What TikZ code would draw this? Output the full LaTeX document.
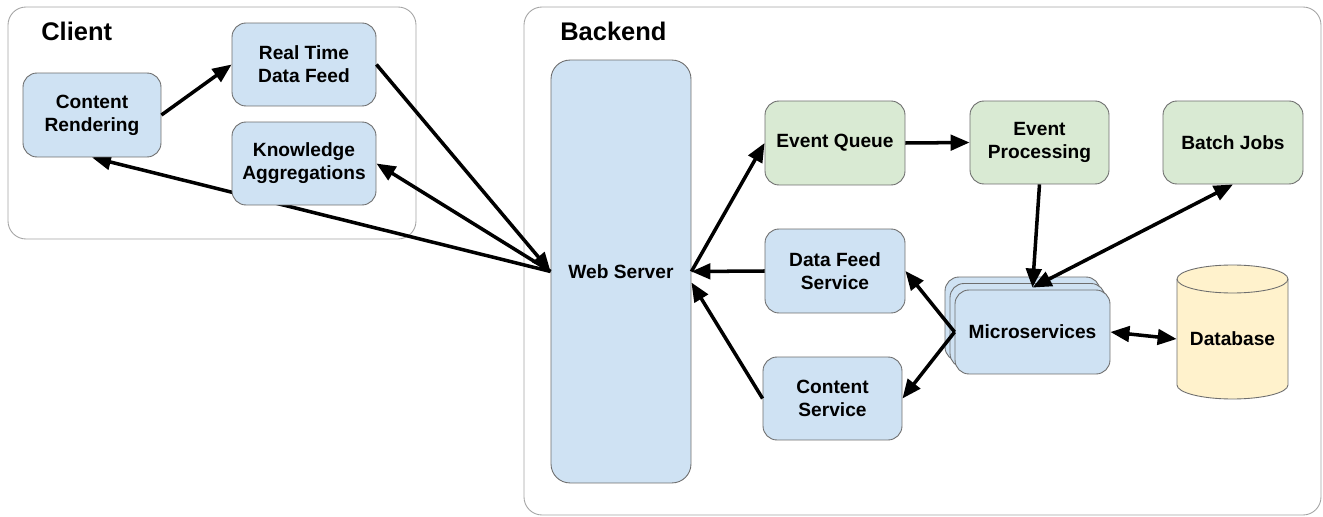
\documentclass[tikz,border=0pt]{standalone}
\usepackage{fontspec}
\setmainfont{Liberation Sans}
\usepackage{xcolor}
\usetikzlibrary{arrows.meta}

\definecolor{boxblue}{HTML}{CFE2F3}
\definecolor{boxgreen}{HTML}{D9EAD3}
\definecolor{dbyellow}{HTML}{FFF2CC}
\definecolor{boxline}{HTML}{6E6E6E}
\definecolor{groupline}{HTML}{A4A4A4}

\pgfdeclarelayer{groups}
\pgfdeclarelayer{links}
\pgfsetlayers{groups,links,main}

\begin{document}
\begin{tikzpicture}[x=0.02cm, y=-0.02cm,
	box/.style={draw=boxline, line width=0.5pt, rounded corners=0.28cm, fill=boxblue,
		align=center, inner sep=0pt, minimum width=2.8cm, minimum height=1.68cm,
		font=\fontsize{10.9}{13}\selectfont\bfseries},
	greenbox/.style={box, fill=boxgreen},
	group/.style={draw=groupline, line width=0.5pt, rounded corners=0.36cm, fill=white},
	title/.style={anchor=west, inner sep=0pt, font=\fontsize{14.5}{16}\selectfont\bfseries},
	link/.style={line width=2pt, -{Triangle[length=0.38cm,width=0.31cm]}},
	duallink/.style={line width=2pt, {Triangle[length=0.38cm,width=0.31cm]}-{Triangle[length=0.38cm,width=0.31cm]}}]
	\useasboundingbox (0,0) rectangle (1323,517);
	
	% Groups
	\begin{pgfonlayer}{groups}
		\draw[group] (8,7) rectangle (416,239);
		\draw[group] (524,7) rectangle (1321,515);
	\end{pgfonlayer}
	\node[title] (client) at (41,31) {Client};
	\node[title] (backend) at (560,31) {Backend};
	
	% Client
	\node[box, minimum width=2.76cm] (cr) at (92,115) {Content\\Rendering};
	\node[box, minimum width=2.88cm, minimum height=1.66cm] (rtdf) at (304,64.5) {Real Time\\Data Feed};
	\node[box, minimum width=2.88cm, minimum height=1.66cm] (ka) at (304,163.5) {Knowledge\\Aggregations};
	
	% Web server
	\node[box, rounded corners=0.38cm, minimum height=8.46cm] (ws) at (621,271.5) {Web Server};
	
	% Events
	\node[greenbox] (eq) at (835,143) {Event Queue};
	\node[greenbox, minimum width=2.78cm, minimum height=1.66cm] (ep) at (1039.5,142.5) {Event\\Processing};
	\node[greenbox, minimum height=1.66cm] (bj) at (1233,142.5) {Batch Jobs};
	
	% Services
	\node[box] (dfs) at (835,271) {Data Feed\\Service};
	\node[box, minimum width=2.78cm, minimum height=1.66cm] (cs) at (832.5,398.5) {Content\\Service};
	
	% Microservices (stacked)
	\node[box, minimum width=3.1cm] (ms3) at (1022.5,319) {};
	\node[box, minimum width=3.1cm] (ms2) at (1027.5,325.5) {};
	\node[box, minimum width=3.1cm] (ms) at (1032.5,332) {Microservices};
	
	% Database
	\node[inner sep=0pt, minimum width=2.22cm, font=\fontsize{10.9}{13}\selectfont\bfseries] (db) at (1232.5,339) {Database};
	\begin{pgfonlayer}{groups}
		\draw[draw=boxline, line width=0.5pt, fill=dbyellow] (1177,279) -- (1177,385)
			arc[start angle=180, end angle=360, x radius=1.11cm, y radius=0.28cm] -- (1288,279)
			arc[start angle=0, end angle=180, x radius=1.11cm, y radius=0.28cm] -- cycle;
		\draw[draw=boxline, line width=0.5pt] (1177,279)
			arc[start angle=180, end angle=360, x radius=1.11cm, y radius=0.28cm];
	\end{pgfonlayer}
	
	% Arrows (this one runs behind the Knowledge box)
	\begin{pgfonlayer}{links}
		\draw[link] (ws.west) -- (cr.south);
	\end{pgfonlayer}
	\draw[link] (cr.east) -- (rtdf.west);
	\draw[link] (rtdf.east) -- (ws.west);
	\draw[link] (ws.west) -- (ka.east);
	\draw[link] (ws.east) -- (eq.west);
	\draw[link] (eq.east) -- (ep.west);
	\draw[link] (ep.south) -- ([yshift=0.04cm]ms.north);
	\draw[duallink] (bj.south) -- ([yshift=0.04cm]ms.north);
	\draw[link] (dfs.west) -- (ws.east);
	\draw[link] (cs.west) -- ([yshift=-0.22cm]ws.east);
	\draw[link] (ms.west) -- (dfs.east);
	\draw[link] (ms.west) -- (cs.east);
	\draw[duallink] (ms.east) -- (db.west);
\end{tikzpicture}
\end{document}
